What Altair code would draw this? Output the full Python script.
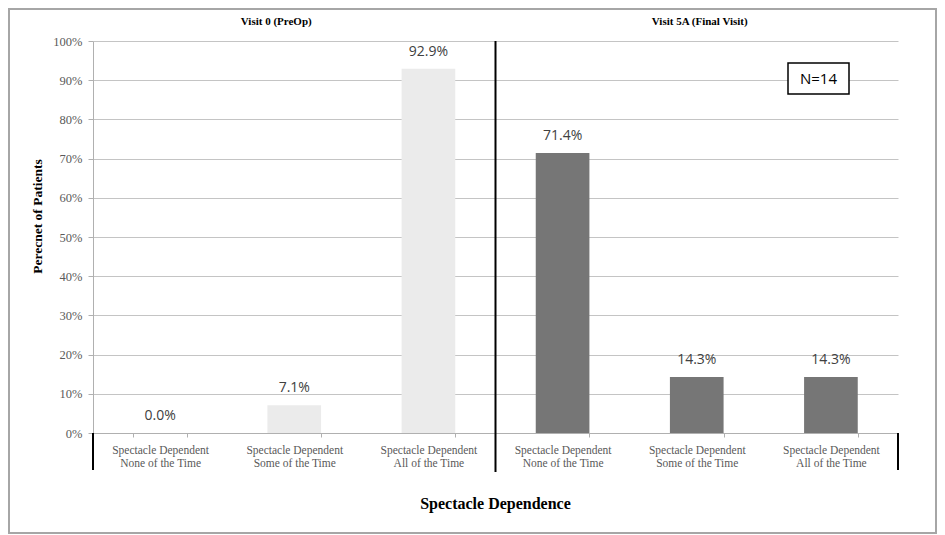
import altair as alt
import pandas as pd

panels = ["Visit 0 (PreOp)", "Visit 0 (PreOp)", "Visit 0 (PreOp)",
          "Visit 5A (Final Visit)", "Visit 5A (Final Visit)", "Visit 5A (Final Visit)"]
categories = ["0|Spectacle Dependent|None of the Time",
              "1|Spectacle Dependent|Some of the Time",
              "2|Spectacle Dependent|All of the Time",
              "3|Spectacle Dependent|None of the Time",
              "4|Spectacle Dependent|Some of the Time",
              "5|Spectacle Dependent|All of the Time"]
values = [0.0, 0.071, 0.929, 0.714, 0.143, 0.143]
y_ticks = [0.0, 0.1, 0.2, 0.3, 0.4, 0.5, 0.6, 0.7, 0.8, 0.9, 1.0]
panel_titles = ["Visit 0 (PreOp)", "Visit 5A (Final Visit)"]
panel_title_cats = [categories[1], categories[4]]
note = "N=14"

df = pd.DataFrame({"cat": categories, "panel": panels, "value": values})
titles_df = pd.DataFrame({"cat": panel_title_cats, "title": panel_titles})

W, H = 805, 392
SERIF = "Liberation Serif"
SANS = "Open Sans"

x_enc = alt.X("cat:N", sort=categories,
              scale=alt.Scale(paddingInner=0.6, paddingOuter=0.3),
              axis=alt.Axis(title="Spectacle Dependence", labelAngle=0,
                            labelExpr="slice(split(datum.label, '|'), 1)",
                            labelFont=SERIF, labelFontSize=11.5, labelColor="#595959",
                            labelPadding=7, labelLineHeight=13,
                            domainColor="#b0b0b0", tickColor="#b0b0b0", tickSize=4,
                            tickBand="extent",
                            titleFont=SERIF, titleFontSize=16, titleFontWeight="bold",
                            titleColor="#000000", titleX=402, titleY=70,
                            titleBaseline="middle", titleAnchor="middle"))
y_enc = alt.Y("value:Q", scale=alt.Scale(domain=[0, 1], nice=False),
              axis=alt.Axis(title="Perecnet of Patients", values=y_ticks, format=".0%",
                            labelFont=SERIF, labelFontSize=12.5, labelColor="#5a5a5a",
                            labelPadding=6, tickColor="#b0b0b0", tickSize=5,
                            domainColor="#b0b0b0", gridColor="#c4c4c4",
                            titleFont=SERIF, titleFontSize=13.5, titleFontWeight="bold",
                            titleColor="#000000", titleX=-56, titleY=175,
                            titleAngle=270, titleAlign="center",
                            titleBaseline="middle"))

base = alt.Chart(df).encode(x=x_enc, y=y_enc)

bars = base.mark_bar().encode(
    color=alt.Color("panel:N", scale=alt.Scale(domain=panel_titles,
                                               range=["#ebebeb", "#767676"]),
                    legend=None))

labels = base.mark_text(dy=-10, baseline="bottom", font=SANS, fontSize=14,
                        color="#404040").encode(text=alt.Text("value:Q", format=".1%"))

ptitle0 = alt.Chart(titles_df.head(1)).mark_text(font=SERIF, fontSize=11, fontWeight="bold",
                                                 color="#000000", dx=-18).encode(
    x=alt.X("cat:N", sort=categories), y=alt.value(-19), text="title:N")
ptitle1 = alt.Chart(titles_df.tail(1)).mark_text(font=SERIF, fontSize=11, fontWeight="bold",
                                                 color="#000000", dx=3).encode(
    x=alt.X("cat:N", sort=categories), y=alt.value(-19), text="title:N")

divider = alt.Chart(titles_df.head(1)).mark_rule(color="#000000", strokeWidth=2).encode(
    x=alt.value(402.5), y=alt.value(0), y2=alt.value(431))
left_edge = alt.Chart(titles_df.head(1)).mark_rule(color="#000000", strokeWidth=2).encode(
    x=alt.value(0), y=alt.value(H), y2=alt.value(429))
right_edge = alt.Chart(titles_df.head(1)).mark_rule(color="#000000", strokeWidth=2).encode(
    x=alt.value(W), y=alt.value(H), y2=alt.value(429))

box = alt.Chart(titles_df.head(1)).mark_rect(fill="#ffffff", stroke="#000000",
                                             strokeWidth=1.5).encode(
    x=alt.value(695), x2=alt.value(756), y=alt.value(22), y2=alt.value(53))
ntext = alt.Chart(pd.DataFrame({"t": [note]})).mark_text(
    font=SANS, fontSize=15, color="#000000", baseline="middle").encode(
    x=alt.value(725.5), y=alt.value(38), text="t:N")

border = alt.Chart(titles_df.head(1)).mark_rect(fill=None, stroke="#a6a6a6",
                                                strokeWidth=2).encode(
    x=alt.value(-84), x2=alt.value(843), y=alt.value(-32), y2=alt.value(492))

chart = alt.layer(border, bars, labels, ptitle0, ptitle1, divider, left_edge, right_edge,
                  box, ntext).properties(
    width=W, height=H,
    autosize=alt.AutoSizeParams(type="none"),
    padding={"left": 85, "top": 33, "right": 39, "bottom": 101},
    background="#ffffff"
).configure_view(stroke=None)

chart.save("out.html", embed_options={"renderer": "svg", "actions": False})
